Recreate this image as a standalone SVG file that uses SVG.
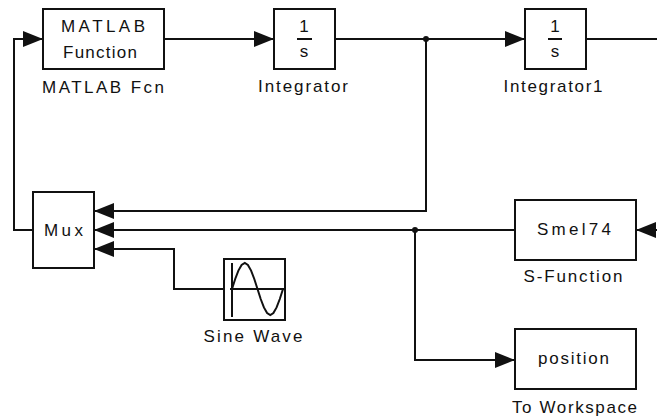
<svg xmlns="http://www.w3.org/2000/svg" width="657" height="419" viewBox="0 0 657 419">
<style>
  .blk { fill: #ffffff; stroke: #111111; stroke-width: 2; }
  .wire { fill: none; stroke: #111111; stroke-width: 2; marker-end: url(#arr); }
  .wire0 { fill: none; stroke: #111111; stroke-width: 2; }
  text { font-family: "Liberation Sans", Arial, sans-serif; font-size: 17px; fill: #111111; text-anchor: middle; }
  .dot { fill: #111111; }
</style>
<defs>
  <marker id="arr" viewBox="0 0 20 16" refX="20" refY="8" markerWidth="20" markerHeight="16" markerUnits="userSpaceOnUse" orient="auto">
    <path d="M0,0 L20,8 L0,16 z" fill="#111111"/>
  </marker>
</defs>
<rect width="657" height="419" fill="#ffffff"/>

<g id="connectors">
  <path class="wire" d="M164,39 H274"/>
  <path class="wire" d="M335,39 H525"/>
  <path class="wire0" d="M586,39 H657"/>
  <path class="wire" d="M426,39 V211 H94"/>
  <path class="wire" d="M515,230 H94"/>
  <path class="wire" d="M415,230 V360 H515"/>
  <path class="wire" d="M224,289 H174 V249 H94"/>
  <path class="wire" d="M33,230 H14 V39 H43"/>
  <path class="wire" d="M660,230 H636"/>
  <circle class="dot" cx="426" cy="39" r="3"/>
  <circle class="dot" cx="415" cy="230" r="3"/>
</g>

<g id="matlab-fcn">
  <rect class="blk" x="43" y="9" width="121" height="60"/>
  <text x="103" y="32" textLength="84" lengthAdjust="spacing">MATLAB</text>
  <text x="100" y="58" textLength="74" lengthAdjust="spacing">Function</text>
  <text x="103" y="93" textLength="122" lengthAdjust="spacing">MATLAB Fcn</text>
</g>

<g id="integrator">
  <rect class="blk" x="274" y="9" width="61" height="60"/>
  <text x="304" y="32">1</text>
  <line x1="297" y1="39" x2="312" y2="39" stroke="#111111" stroke-width="2"/>
  <text x="304" y="57">s</text>
  <text x="303" y="92" textLength="90" lengthAdjust="spacing">Integrator</text>
</g>

<g id="integrator1">
  <rect class="blk" x="525" y="9" width="61" height="60"/>
  <text x="555" y="32">1</text>
  <line x1="548" y1="39" x2="562" y2="39" stroke="#111111" stroke-width="2"/>
  <text x="555" y="57">s</text>
  <text x="553" y="92" textLength="99" lengthAdjust="spacing">Integrator1</text>
</g>

<g id="mux">
  <rect class="blk" x="33" y="192" width="61" height="76"/>
  <text x="63.5" y="236" textLength="39" lengthAdjust="spacing">Mux</text>
</g>

<g id="sine-wave">
  <rect class="blk" x="224" y="259" width="61" height="61" stroke-width="2.5"/>
  <line x1="232" y1="263" x2="232" y2="317" stroke="#111111" stroke-width="2"/>
  <line x1="230" y1="289" x2="285" y2="289" stroke="#111111" stroke-width="2"/>
  <polyline fill="none" stroke="#111111" stroke-width="2" points="232,289 235.2,279 238.4,270.6 241.6,265 244.8,263 247.9,265 251.1,270.6 254.3,279 257.5,289 260.7,299 263.9,307.4 267.1,313 270.3,315 273.4,313 276.6,307.4 279.8,299 283,289"/>
  <text x="253" y="342" textLength="99" lengthAdjust="spacing">Sine Wave</text>
</g>

<g id="s-function">
  <rect class="blk" x="515" y="200" width="121" height="60"/>
  <text x="574" y="235" textLength="74" lengthAdjust="spacing">Smel74</text>
  <text x="573" y="282" textLength="99" lengthAdjust="spacing">S-Function</text>
</g>

<g id="to-workspace">
  <rect class="blk" x="515" y="329" width="121" height="60"/>
  <text x="573.5" y="364" textLength="71" lengthAdjust="spacing">position</text>
  <text x="574.5" y="413" textLength="125" lengthAdjust="spacing">To Workspace</text>
</g>
</svg>
